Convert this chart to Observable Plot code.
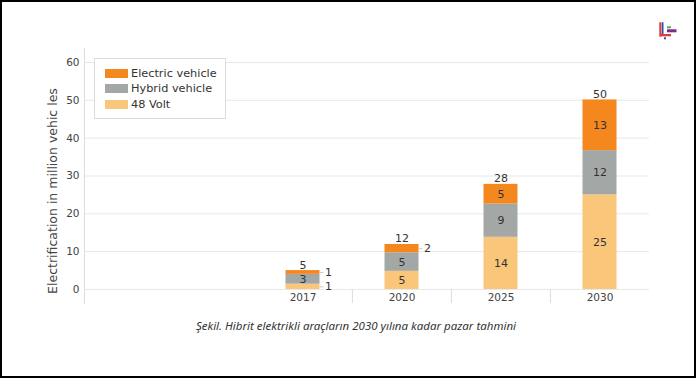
<!DOCTYPE html>
<html><head><meta charset="utf-8">
<script src="https://cdn.jsdelivr.net/npm/d3@7"></script>
<script src="https://cdn.jsdelivr.net/npm/@observablehq/plot@0.6"></script>
<style>
html,body{margin:0;padding:0;background:#fff;}
body{width:696px;height:378px;position:relative;overflow:hidden;font-family:"DejaVu Sans",sans-serif;}
#chart{position:absolute;left:0;top:0;}
#border{position:absolute;left:0;top:0;width:696px;height:378px;border:2px solid #000;box-sizing:border-box;pointer-events:none;}
#legend{position:absolute;left:94px;top:58px;width:132px;height:61px;box-sizing:border-box;border:1px solid #dcdcdc;background:#fff;}
.item{position:absolute;left:10px;height:12px;display:flex;align-items:center;font-size:11.3px;color:#333;white-space:nowrap;}
.sw{width:23px;height:9px;margin-right:3px;flex:none;}
#caption{position:absolute;left:0;width:712px;top:318px;text-align:center;font-style:italic;font-size:11.5px;color:#333;font-family:"Noto Sans",sans-serif;}
#logo{position:absolute;left:657px;top:20px;}
</style></head>
<body>
<div id="chart"></div>
<div id="legend"></div>
<div id="caption"></div>
<svg id="logo" width="22" height="22" viewBox="0 0 22 22">
  <rect x="2.3" y="2.3" width="2" height="14.4" fill="#e03a3e"/>
  <rect x="4.7" y="2.3" width="1.8" height="12.7" fill="#2f4fa2"/>
  <rect x="10" y="6.3" width="4" height="2" fill="#4caf50"/>
  <rect x="10" y="9.3" width="9.5" height="3" fill="#7b2d8e"/>
  <rect x="3" y="14" width="11" height="2.3" fill="#e03a3e"/>
  <rect x="7" y="17.3" width="2" height="2" fill="#2f4fa2"/>
</svg>
<div id="border"></div>
<script>
const years = ["2017", "2020", "2025", "2030"];
const series = ["48 Volt", "Hybrid vehicle", "Electric vehicle"];
const volt48 = [1.4, 4.8, 13.8, 25.0];
const hybrid = [2.6, 4.9, 8.8, 11.7];
const electric = [1.0, 2.2, 5.2, 13.4];
const colors = ["#F9C67A", "#A3A7A6", "#F5871F"];
const yTicks = [0, 10, 20, 30, 40, 50, 60];
const legendOrder = ["Electric vehicle", "Hybrid vehicle", "48 Volt"];
const yLabel = "Electrification in million vehic les";
const captionText = "Şekil. Hibrit elektrikli araçların 2030 yılına kadar pazar tahmini";

const valuesBySeries = [volt48, hybrid, electric];
const rows = years.flatMap((year, i) => series.map((s, j) => ({year, series: s, value: valuesBySeries[j][i]})));
const totals = years.map((year, i) => ({year, total: d3.sum(valuesBySeries, v => v[i])}));
const small = d => d.value < 2.5;

const chart = Plot.plot({
  width: 696, height: 310,
  marginTop: 48, marginBottom: 7, marginLeft: 84, marginRight: 47,
  style: {fontFamily: "DejaVu Sans", fontSize: "10.5px", color: "#444", background: "transparent"},
  x: {type: "band", domain: years, range: [252, 649], padding: 0},
  y: {domain: [-3.7, 63.7]},
  color: {domain: series, range: colors},
  marks: [
    Plot.gridY(yTicks, {stroke: "#e8e8e8", strokeOpacity: 1}),
    Plot.frame({anchor: "left", stroke: "#dcdcdc"}),
    Plot.ruleX(years.slice(1), {x: d => d, y1: 0, y2: -3.7, dx: -49.6, stroke: "#dcdcdc"}),
    Plot.axisY(yTicks, {tickSize: 0, tickPadding: 5, fontSize: 10.5, fill: "#444", label: null}),
    Plot.axisX({tickSize: 0, tickPadding: 3, dy: -13, fontSize: 10.5, fill: "#444", label: null}),
    Plot.barY(rows, Plot.stackY({x: "year", y: "value", fill: "series", order: series, insetLeft: 32.5, insetRight: 32.5})),
    Plot.text(rows, Plot.stackY({x: "year", y: "value", z: "series", order: series,
      text: d => small(d) ? null : String(Math.round(d.value)), fill: "#333", fontSize: 11})),
    Plot.tickY(rows, Plot.stackY({x: "year", y: "value", z: "series", order: series,
      strokeWidth: d => small(d) ? 1 : 0, stroke: "#cfcfcf", insetLeft: 67, insetRight: 28.4})),
    Plot.text(rows, Plot.stackY({x: "year", y: "value", z: "series", order: series,
      text: d => small(d) ? String(Math.round(d.value)) : null, fill: "#333", fontSize: 11, textAnchor: "start", dx: 22})),
    Plot.text(totals, {x: "year", y: "total", text: d => String(Math.round(d.total)), lineAnchor: "bottom", dy: -2, fill: "#333", fontSize: 11}),
    Plot.text([yLabel], {frameAnchor: "left", textAnchor: "middle", dx: -32, dy: 15, rotate: -90, fontSize: 12.5, fill: "#444"})
  ]
});
document.getElementById("chart").appendChild(chart);

const legend = document.getElementById("legend");
const rowTops = [8.5, 23.5, 39.5];
legendOrder.forEach((s, k) => {
  const item = document.createElement("div");
  item.className = "item";
  item.style.top = rowTops[k] + "px";
  const sw = document.createElement("span");
  sw.className = "sw";
  sw.style.background = colors[series.indexOf(s)];
  const label = document.createElement("span");
  label.textContent = s;
  item.appendChild(sw);
  item.appendChild(label);
  legend.appendChild(item);
});
document.getElementById("caption").textContent = captionText;
</script>
</body></html>
